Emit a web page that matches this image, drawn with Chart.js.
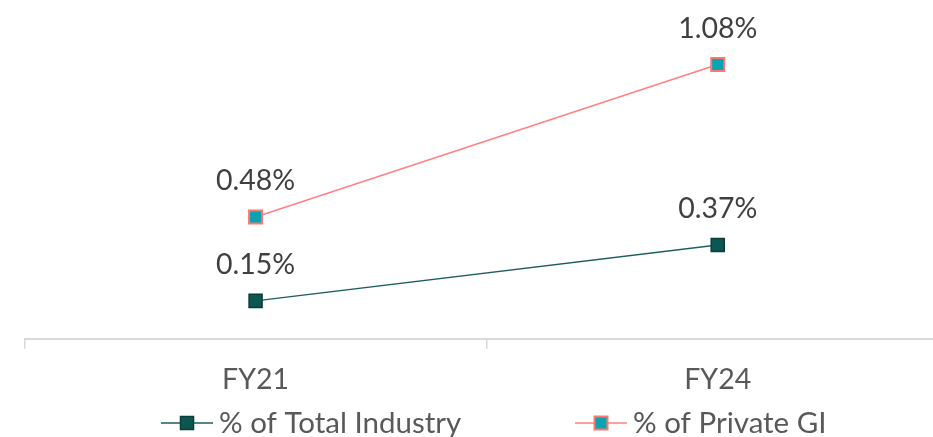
<!DOCTYPE html>
<html>
<head>
<meta charset="utf-8">
<script src="https://cdn.jsdelivr.net/npm/chart.js@4/dist/chart.umd.min.js"></script>
<style>
  html, body { margin: 0; padding: 0; background: #fff; overflow: hidden; }
  #wrap { position: relative; width: 960px; height: 437px; }
</style>
</head>
<body>
<div id="wrap"><canvas id="chart" width="960" height="437"></canvas></div>
<script>
// chart data
const categories = ['FY21', 'FY24'];
const totalIndustry = [0.15, 0.37];
const privateGI = [0.48, 1.08];
const seriesNames = ['% of Total Industry', '% of Private GI'];

const FONT = 'Lato, "Open Sans", sans-serif';

// value labels above each point
const valueLabels = {
  id: 'valueLabels',
  afterDatasetsDraw(chart) {
    const ctx = chart.ctx;
    ctx.save();
    ctx.font = '28.5px ' + FONT;
    ctx.fillStyle = '#404040';
    ctx.textAlign = 'center';
    ctx.textBaseline = 'middle';
    chart.data.datasets.forEach((ds, i) => {
      chart.getDatasetMeta(i).data.forEach((pt, j) => {
        ctx.fillText(ds.data[j].toFixed(2) + '%', pt.x, pt.y - 36);
      });
    });
    ctx.restore();
  }
};

// legend with line + marker, like the office style
const lineLegend = {
  id: 'lineLegend',
  afterDraw(chart) {
    const ctx = chart.ctx;
    const y = 423;
    const items = [
      { x: 161, ds: chart.data.datasets[0] },
      { x: 575, ds: chart.data.datasets[1] }
    ];
    ctx.save();
    items.forEach(it => {
      const ds = it.ds;
      ctx.strokeStyle = ds.borderColor;
      ctx.lineWidth = 1.5;
      ctx.beginPath();
      ctx.moveTo(it.x, y);
      ctx.lineTo(it.x + 52, y);
      ctx.stroke();
      ctx.fillStyle = ds.pointBackgroundColor;
      ctx.strokeStyle = ds.pointBorderColor;
      ctx.lineWidth = ds.pointBorderWidth;
      ctx.fillRect(it.x + 19.5, y - 6.5, 13, 13);
      ctx.strokeRect(it.x + 19.5, y - 6.5, 13, 13);
      ctx.font = '29.5px ' + FONT;
      ctx.fillStyle = '#595959';
      ctx.textAlign = 'left';
      ctx.textBaseline = 'middle';
      ctx.fillText(ds.label, it.x + 58, y);
    });
    ctx.restore();
  }
};

new Chart(document.getElementById('chart'), {
  type: 'line',
  data: {
    labels: categories,
    datasets: [{
      label: seriesNames[0],
      data: totalIndustry,
      borderColor: '#1E5E5B',
      borderWidth: 1.5,
      pointStyle: 'rect',
      pointRadius: 9.2,
      pointBackgroundColor: '#0D5753',
      pointBorderColor: '#0A3D3A',
      pointBorderWidth: 1.5
    }, {
      label: seriesNames[1],
      data: privateGI,
      borderColor: '#FF8080',
      borderWidth: 1.5,
      pointStyle: 'rect',
      pointRadius: 9.2,
      pointBackgroundColor: '#0BA2B2',
      pointBorderColor: '#F47A72',
      pointBorderWidth: 2
    }]
  },
  options: {
    responsive: false,
    animation: false,
    layout: { padding: { top: 34, left: 24.5, right: 0, bottom: 0 } },
    plugins: {
      legend: { display: false },
      tooltip: { enabled: false }
    },
    scales: {
      y: { display: false, min: 0, max: 1.2 },
      x: {
        offset: true,
        grid: {
          offset: true,
          drawOnChartArea: false,
          drawTicks: true,
          tickLength: 10,
          color: '#D9D9D9',
          lineWidth: 1.5
        },
        border: { display: true, color: '#D9D9D9', width: 2 },
        ticks: {
          color: '#595959',
          font: { family: FONT, size: 28.5 },
          padding: 14
        },
        afterFit(scale) { scale.height = 98; }
      }
    }
  },
  plugins: [valueLabels, lineLegend]
});
</script>
</body>
</html>
